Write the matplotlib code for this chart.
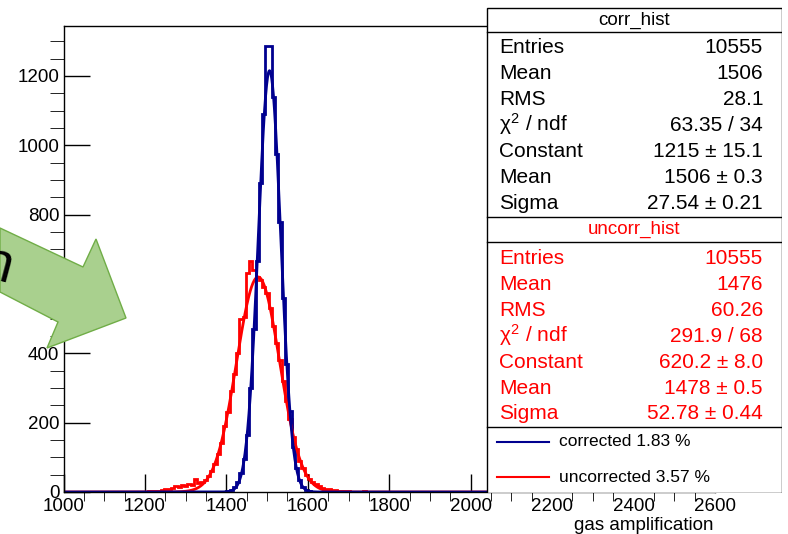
import numpy as np
import matplotlib.pyplot as plt
from matplotlib.patches import Polygon, Rectangle
from matplotlib.lines import Line2D

plt.rcParams['font.family'] = ['Liberation Sans', 'DejaVu Sans']
plt.rcParams['mathtext.fontset'] = 'custom'
plt.rcParams['mathtext.rm'] = 'Liberation Sans'
plt.rcParams['mathtext.it'] = 'Liberation Sans'

# histogram binning (width 8, 1000..2600)
bin_width = 8
x_min, x_max = 1000, 2600

# corrected histogram, counts per bin starting at 1376
corr_start = 1376
corr_counts = [0, 0, 1, 2, 5, 14, 30, 55, 95, 165, 300, 470, 665, 890, 1090,
               1285, 1285, 1140, 975, 780, 560, 370, 235, 130, 70, 35, 15, 6,
               3, 1]

# uncorrected histogram, counts per bin starting at 1200
uncorr_start = 1200
uncorr_counts = [1, 2, 2, 3, 4, 5, 8, 10, 12, 16, 15, 20, 18, 22, 20, 38, 25,
                 30, 35, 45, 60, 80, 110, 140, 190, 230, 290, 340, 400, 500,
                 505, 632, 665, 640, 620, 610, 590, 575, 530, 480, 430, 380,
                 320, 262, 210, 160, 125, 90, 70, 50, 38, 30, 22, 16, 12, 10,
                 8, 6, 5, 4, 3, 3, 2, 1, 1, 1, 0, 3, 1]

# gaussian fit parameters (from stat boxes)
corr_fit = (1215, 1506, 27.54)
uncorr_fit = (620.2, 1478, 52.78)

corr_labels = ['Entries', 'Mean', 'RMS', r'$\chi^2$ / ndf', 'Constant', 'Mean', 'Sigma']
corr_values = ['10555', '1506', '28.1', '63.35 / 34', '1215 \u00b1 15.1',
               '1506 \u00b1 0.3', '27.54 \u00b1 0.21']
uncorr_values = ['10555', '1476', '60.26', '291.9 / 68', '620.2 \u00b1 8.0',
                 '1478 \u00b1 0.5', '52.78 \u00b1 0.44']
legend_texts = ['corrected 1.83 %', 'uncorrected 3.57 %']

blue = '#00008f'
red = '#ff0000'

edges = np.arange(x_min, x_max + 1, bin_width)
def fill(start, counts):
    h = np.zeros(len(edges) - 1)
    i0 = (start - x_min) // bin_width
    h[i0:i0 + len(counts)] = counts
    return h

h_corr = fill(corr_start, corr_counts)
h_uncorr = fill(uncorr_start, uncorr_counts)

W, H = 788, 534
fig = plt.figure(figsize=(W / 100, H / 100), dpi=100)
ax = fig.add_axes([63.5 / W, 42 / H, 651.5 / W, 466 / H])

xs = np.linspace(x_min, x_max, 2000)
def gaus(p, x):
    return p[0] * np.exp(-0.5 * ((x - p[1]) / p[2]) ** 2)

ax.stairs(h_uncorr, edges, color=red, lw=2)
ax.plot(xs, gaus(uncorr_fit, xs), color=red, lw=2)
ax.stairs(h_corr, edges, color=blue, lw=2)
ax.plot(xs, gaus(corr_fit, xs), color=blue, lw=2)

ax.set_xlim(x_min, x_max)
ax.set_ylim(0, 1344)
ax.set_xticks(np.arange(1000, 2601, 200))
ax.set_xticks(np.arange(1000, 2601, 50), minor=True)
ax.set_yticks(np.arange(0, 1201, 200))
ax.set_yticks(np.arange(0, 1344, 50), minor=True)
ax.tick_params(direction='in', labelsize=13.5, width=1)
ax.tick_params(axis='x', which='major', length=13, pad=4)
ax.tick_params(axis='x', which='minor', length=6.5)
ax.tick_params(axis='y', which='major', length=19, pad=3)
ax.tick_params(axis='y', which='minor', length=10)
for s in ax.spines.values():
    s.set_linewidth(1)

fig.text(714 / W, 1 - 525 / H, 'gas amplification', ha='right', va='center',
         fontsize=13.5)

# stat boxes + legend, in pixel coordinates
box = fig.add_axes([486 / W, 1 - 493 / H, (782 - 486) / W, (493 - 7) / H])
box.set_xlim(486, 782)
box.set_ylim(493, 7)
box.axis('off')
box.add_patch(Rectangle((486.5, 7.5), 295, 485, facecolor='white',
                        edgecolor='black', lw=1))
for yl in [32, 217, 242, 427]:
    box.plot([486.5, 781.5], [yl, yl], color='black', lw=1)

box.text(634, 20, 'corr_hist', ha='center', va='center', fontsize=13.5)
box.text(634, 229, 'uncorr_hist', ha='center', va='center', fontsize=13.5, color=red)
for i in range(7):
    y1 = 46 + 26 * i + 7
    y2 = 257 + 25.9 * i + 7
    box.text(499, y1, corr_labels[i], ha='left', va='baseline', fontsize=15)
    box.text(763, y1, corr_values[i], ha='right', va='baseline', fontsize=15)
    box.text(499, y2, corr_labels[i], ha='left', va='baseline', fontsize=15, color=red)
    box.text(763, y2, uncorr_values[i], ha='right', va='baseline', fontsize=15, color=red)

for y, c, t in zip([442, 477], [blue, red], legend_texts):
    box.add_line(Line2D([497, 549], [y, y], color=c, lw=1.5))
    box.text(559, y, t, ha='left', va='center', fontsize=12.5)

# green arrow overlay
arrow_px = [(0, 228), (83, 267), (96, 239), (126, 318), (47, 348), (58, 322), (0, 292)]
arrow = Polygon([(x / W, 1 - y / H) for x, y in arrow_px], closed=True,
                transform=fig.transFigure, facecolor='#a9d08e',
                edgecolor='#70ad47', lw=1, zorder=5)
fig.add_artist(arrow)
fig.text(-3 / W, 1 - 266 / H, 'n', fontsize=40, rotation=-15, ha='center',
         va='center', zorder=6)

fig.savefig('out.png', dpi=100)
